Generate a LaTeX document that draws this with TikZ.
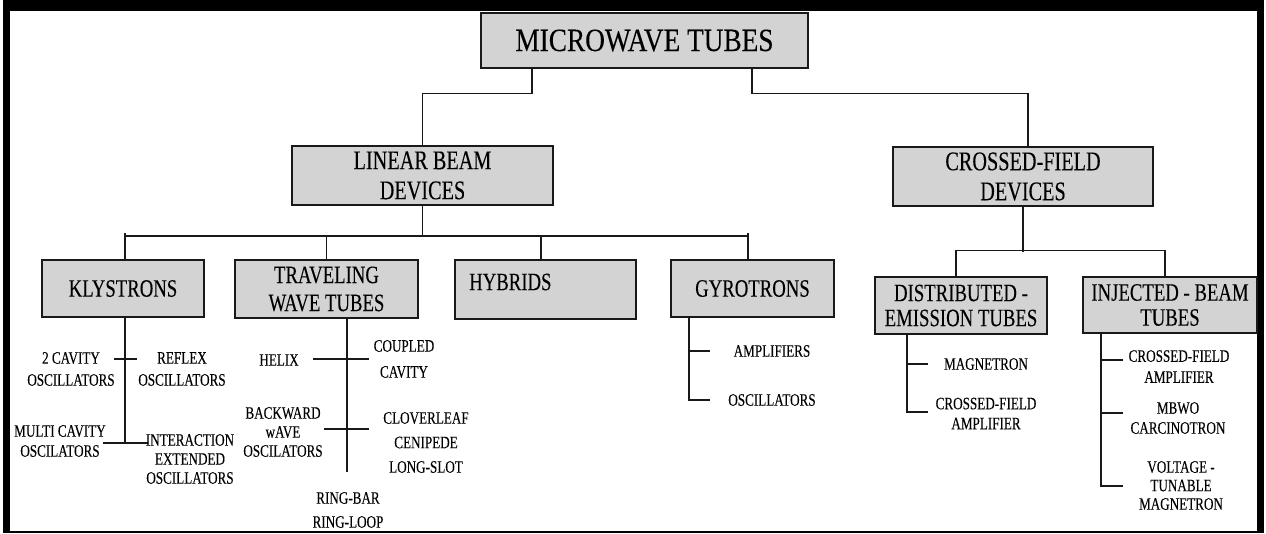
\documentclass[tikz,border=0pt]{standalone}
\usepackage{fontspec}
\setmainfont{Liberation Serif}[FakeStretch=0.75, FakeBold=0.12]
\newfontfamily\mtfont{Liberation Serif}[FakeStretch=0.84, FakeBold=0.12]
\definecolor{boxgray}{RGB}{211,211,211}
\definecolor{edge}{RGB}{25,25,25}
\tikzset{
  box/.style={draw=edge, line width=1.6pt, fill=boxgray, inner sep=0pt, align=center},
  boxfont/.style={font=\fontsize{25}{#1}\selectfont},
  boxfont/.default=28,
  lbl/.style={inner sep=0pt, align=center, font=\fontsize{17.5}{#1}\selectfont},
  lbl/.default=19,
  wire/.style={draw=edge, line width=1.6pt},
  thinwire/.style={draw=edge, line width=1.3pt},
}
\begin{document}
\begin{tikzpicture}[x=1pt,y=-1pt]
\useasboundingbox (0,0) rectangle (1266,533);
% frame
\fill[black] (3,0) rectangle (10,533);
\fill[black] (3,0) rectangle (1264,11);
\fill[black] (1257,0) rectangle (1264,533);
\fill[black] (3,530.5) rectangle (1264,533);

% boxes
\node[box, minimum width=327pt, minimum height=55pt, font=\mtfont\fontsize{32.5}{34}\selectfont] (mt) at (644.5,40.5) {MICROWAVE TUBES};
\node[box, minimum width=261pt, minimum height=59pt, font=\fontsize{27}{30}\selectfont] (lb) at (422.5,175.5) {LINEAR BEAM\\DEVICES};
\node[box, minimum width=260pt, minimum height=59pt, font=\fontsize{27}{30}\selectfont] (cf) at (1023,176.5) {CROSSED-FIELD\\DEVICES};
\node[box, boxfont, minimum width=162pt, minimum height=57pt] (kly) at (123,288.5) {KLYSTRONS};
\node[box, boxfont=28, minimum width=183pt, minimum height=58pt] (twt) at (326.5,289) {TRAVELING\\WAVE TUBES};
\node[box, minimum width=181pt, minimum height=59pt] (hyb) at (545.5,289.5) {};
\node[inner sep=0pt, anchor=west, boxfont] (hybT) at (469,282) {HYBRIDS};
\node[box, boxfont, minimum width=163pt, minimum height=57pt] (gyro) at (752.5,288.5) {GYROTRONS};
\node[box, boxfont=25, minimum width=172pt, minimum height=57pt] (de) at (961,305.5) {DISTRIBUTED -\\EMISSION TUBES};
\node[box, boxfont=25, minimum width=174pt, minimum height=56pt] (ib) at (1170,305) {INJECTED - BEAM\\TUBES};

% top connectors
\draw[thinwire] ([xshift=-112.5pt]mt.south) -- ++(0,25) -| (lb.north);
\draw[thinwire] ([xshift=107.5pt]mt.south) -- ++(0,25) -| ([xshift=5pt]cf.north);

% linear beam bus
\coordinate (busL) at (125,236);
\coordinate (busR) at (748,236);
\draw[wire] (busL) -- (busR);
\draw[wire] (lb.south) -- (lb.south |- busL);
\draw[wire] (busL |- kly.north) -- ([yshift=3pt]busL);
\draw[wire] (twt.north) -- (twt.north |- busL);
\draw[wire] ([xshift=-4.5pt]hyb.north) -- ([xshift=-4.5pt]hyb.north |- busL);
\draw[wire] (busR |- gyro.north) -- ([yshift=3pt]busR);

% crossed-field bus
\draw[thinwire] (cf.south) -- ++(0,45);
\draw[thinwire] ([xshift=-5pt]de.north) -- ++(0,-26) -| ([xshift=-5pt]ib.north);

% klystron tree
\draw[wire] (kly.south -| busL) -- (125,443);
\draw[wire] (114,359) -- (137,359);
\draw[wire] (103,443) -- (148,443);
\node[lbl=22] (k1) at (71,369) {2 CAVITY\\OSCILLATORS};
\node[lbl=22] (k2) at (182,369) {REFLEX\\OSCILLATORS};
\node[lbl=20] (k3) at (60,441) {MULTI CAVITY\\OSCILATORS};
\node[lbl=19] (k4) at (190,459) {INTERACTION\\EXTENDED\\OSCILLATORS};

% TWT tree
\draw[wire] (347,318) -- (347,472);
\draw[wire] (313,359) -- (369,359);
\draw[wire] (324,429) -- (369,429);
\node[lbl] (t1) at (279,360) {HELIX};
\node[lbl=26] (t2) at (404,359) {COUPLED\\CAVITY};
\node[lbl=19] (t3) at (283,432) {BACKWARD\\wAVE\\OSCILATORS};
\node[lbl=24.5] (t4) at (426,442.5) {CLOVERLEAF\\CENIPEDE\\LONG-SLOT};
\node[lbl=24] (t5) at (348,510) {RING-BAR\\RING-LOOP};

% gyrotron tree
\draw[wire] (689,317) -- (689,400) -- (710,400);
\draw[wire] (689,351) -- (710,351);
\node[lbl] (g1) at (772,351) {AMPLIFIERS};
\node[lbl] (g2) at (772,400) {OSCILLATORS};

% distributed-emission tree
\draw[wire] (907,334) -- (907,412) -- (928,412);
\draw[wire] (907,364) -- (928,364);
\node[lbl] (d1) at (986,364) {MAGNETRON};
\node[lbl=20] (d2) at (986,413.5) {CROSSED-FIELD\\AMPLIFIER};

% injected-beam tree
\draw[wire] (1101,333) -- (1101,486) -- (1123,486);
\draw[wire] (1101,360) -- (1123,360);
\draw[wire] (1101,413) -- (1123,413);
\node[lbl=21] (i1) at (1179,366.5) {CROSSED-FIELD\\AMPLIFIER};
\node[lbl=20] (i2) at (1178,418) {MBWO\\CARCINOTRON};
\node[lbl=18.5] (i3) at (1181,485.5) {VOLTAGE -\\TUNABLE\\MAGNETRON};
\end{tikzpicture}
\end{document}
